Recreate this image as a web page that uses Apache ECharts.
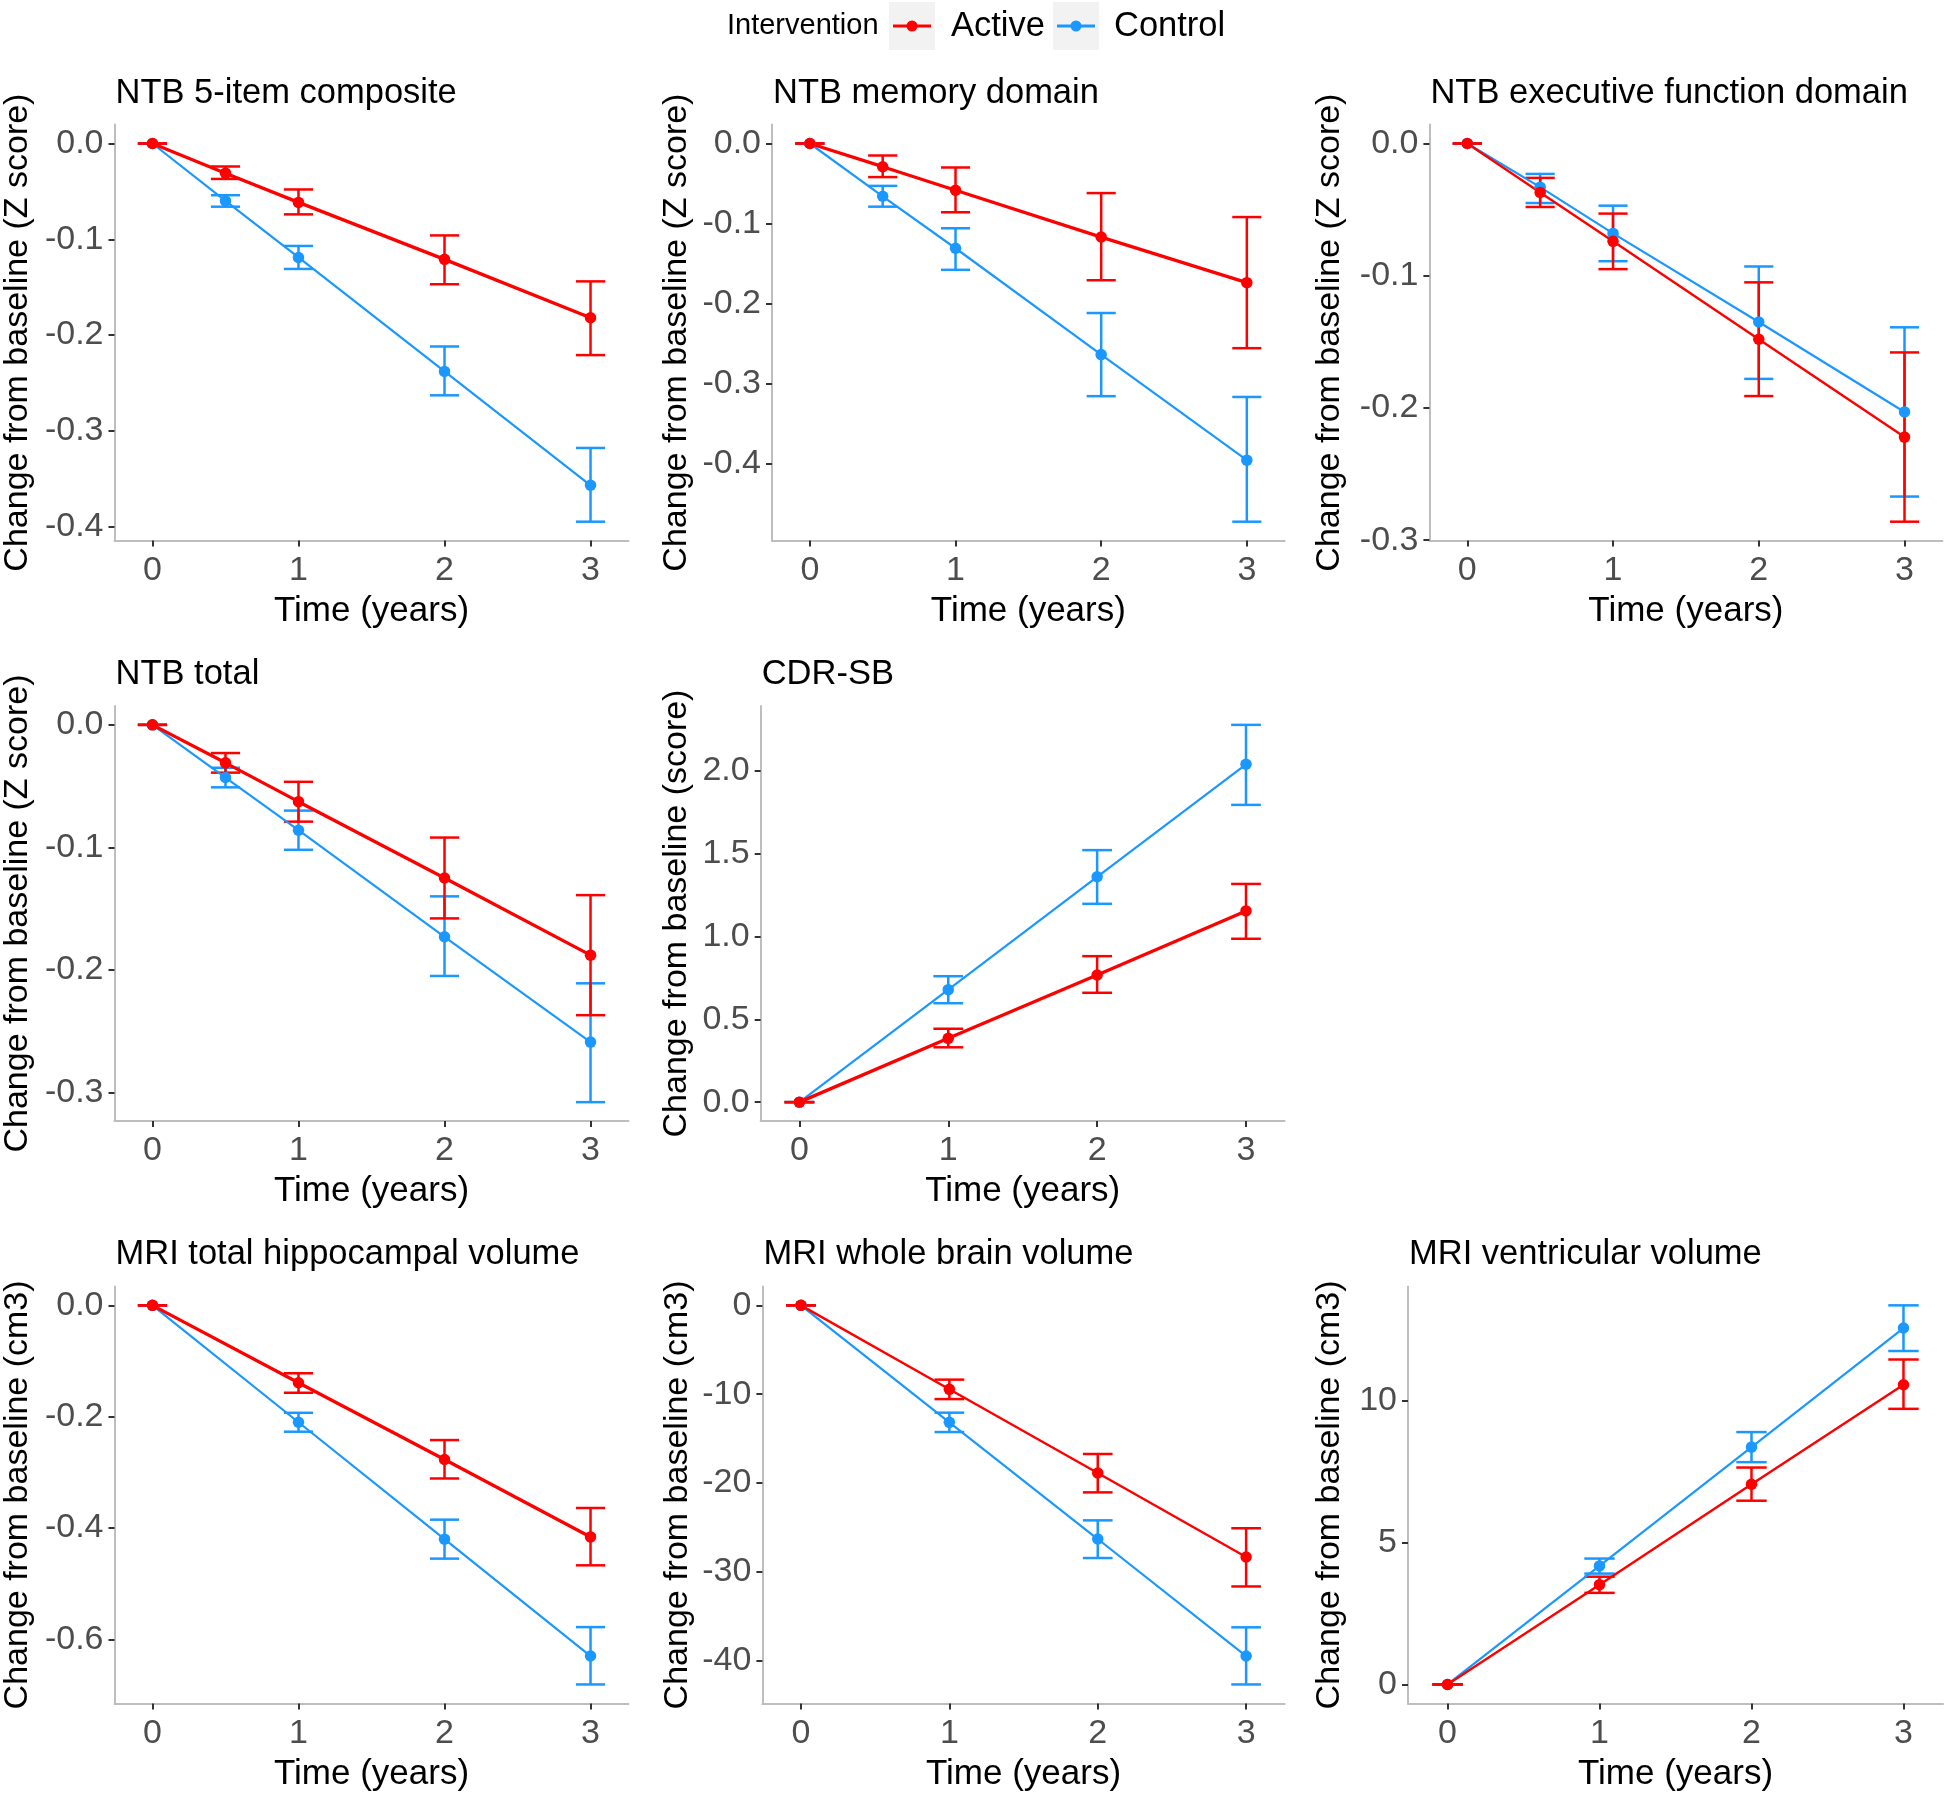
<!DOCTYPE html>
<html>
<head>
<meta charset="utf-8">
<script src="https://cdn.jsdelivr.net/npm/echarts@6/dist/echarts.min.js"></script>
<style>
  html, body { margin: 0; padding: 0; background: #fff; }
  #chart { width: 1944px; height: 1793px; }
</style>
</head>
<body>
<div id="chart"></div>
<script>
// ---- data ----
var panelTitles = ['NTB 5-item composite', 'NTB memory domain', 'NTB executive function domain',
    'NTB total', 'CDR-SB', 'MRI total hippocampal volume', 'MRI whole brain volume', 'MRI ventricular volume'];
var yNames = ['Change from baseline (Z score)', 'Change from baseline (Z score)', 'Change from baseline (Z score)',
    'Change from baseline (Z score)', 'Change from baseline (score)', 'Change from baseline (cm3)',
    'Change from baseline (cm3)', 'Change from baseline (cm3)'];

var timesNTB = [0, 0.5, 1, 2, 3];
var timesYear = [0, 1, 2, 3];
var xTicks = [0, 1, 2, 3];

// NTB 5-item composite
var ntb5Active = [0, -0.031, -0.0615, -0.121, -0.182];
var ntb5ActiveCI = [[0, 0], [-0.037, -0.024], [-0.074, -0.048], [-0.147, -0.096], [-0.221, -0.144]];
var ntb5Control = [0, -0.060, -0.119, -0.238, -0.357];
var ntb5ControlCI = [[0, 0], [-0.066, -0.054], [-0.131, -0.107], [-0.263, -0.212], [-0.395, -0.318]];

// NTB memory domain
var memActive = [0, -0.029, -0.0585, -0.117, -0.174];
var memActiveCI = [[0, 0], [-0.042, -0.015], [-0.086, -0.030], [-0.171, -0.062], [-0.256, -0.092]];
var memControl = [0, -0.066, -0.131, -0.264, -0.396];
var memControlCI = [[0, 0], [-0.079, -0.053], [-0.158, -0.106], [-0.316, -0.212], [-0.473, -0.317]];

// NTB executive function domain
var execActive = [0, -0.037, -0.074, -0.148, -0.222];
var execActiveCI = [[0, 0], [-0.048, -0.026], [-0.095, -0.053], [-0.191, -0.105], [-0.286, -0.158]];
var execControl = [0, -0.033, -0.068, -0.135, -0.203];
var execControlCI = [[0, 0], [-0.045, -0.023], [-0.089, -0.047], [-0.178, -0.093], [-0.267, -0.139]];

// NTB total
var totActive = [0, -0.031, -0.0627, -0.125, -0.188];
var totActiveCI = [[0, 0], [-0.039, -0.023], [-0.079, -0.0465], [-0.158, -0.092], [-0.237, -0.139]];
var totControl = [0, -0.043, -0.086, -0.173, -0.259];
var totControlCI = [[0, 0], [-0.051, -0.035], [-0.102, -0.070], [-0.205, -0.140], [-0.308, -0.211]];

// CDR-SB
var cdrActive = [0, 0.385, 0.767, 1.154];
var cdrActiveCI = [[0, 0], [0.331, 0.443], [0.660, 0.881], [0.986, 1.317]];
var cdrControl = [0, 0.679, 1.360, 2.039];
var cdrControlCI = [[0, 0], [0.597, 0.760], [1.197, 1.521], [1.794, 2.277]];

// MRI total hippocampal volume
var hipActive = [0, -0.139, -0.277, -0.416];
var hipActiveCI = [[0, 0], [-0.157, -0.122], [-0.311, -0.242], [-0.467, -0.364]];
var hipControl = [0, -0.210, -0.420, -0.630];
var hipControlCI = [[0, 0], [-0.227, -0.193], [-0.455, -0.385], [-0.681, -0.578]];

// MRI whole brain volume
var wbvActive = [0, -9.45, -18.87, -28.32];
var wbvActiveCI = [[0, 0], [-10.55, -8.36], [-21.05, -16.73], [-31.64, -25.09]];
var wbvControl = [0, -13.17, -26.30, -39.47];
var wbvControlCI = [[0, 0], [-14.26, -12.08], [-28.44, -24.20], [-42.67, -36.24]];

// MRI ventricular volume
var venActive = [0, 3.52, 7.06, 10.57];
var venActiveCI = [[0, 0], [3.23, 3.80], [6.48, 7.65], [9.72, 11.46]];
var venControl = [0, 4.18, 8.37, 12.57];
var venControlCI = [[0, 0], [3.91, 4.44], [7.84, 8.90], [11.76, 13.37]];

var yTicks = [
    [0, -0.1, -0.2, -0.3, -0.4],
    [0, -0.1, -0.2, -0.3, -0.4],
    [0, -0.1, -0.2, -0.3],
    [0, -0.1, -0.2, -0.3],
    [0, 0.5, 1, 1.5, 2],
    [0, -0.2, -0.4, -0.6],
    [0, -10, -20, -30, -40],
    [0, 5, 10]
];
var yDecimals = [1, 1, 1, 1, 1, 1, 0, 0];

var panelTimes = [timesNTB, timesNTB, timesNTB, timesNTB, timesYear, timesYear, timesYear, timesYear];
var activeMeans = [ntb5Active, memActive, execActive, totActive, cdrActive, hipActive, wbvActive, venActive];
var activeCIs = [ntb5ActiveCI, memActiveCI, execActiveCI, totActiveCI, cdrActiveCI, hipActiveCI, wbvActiveCI, venActiveCI];
var controlMeans = [ntb5Control, memControl, execControl, totControl, cdrControl, hipControl, wbvControl, venControl];
var controlCIs = [ntb5ControlCI, memControlCI, execControlCI, totControlCI, cdrControlCI, hipControlCI, wbvControlCI, venControlCI];

// ---- layout / style ----
var grids = [
    {left: 114.5, top: 124.6, width: 514, height: 416, gap: 80},
    {left: 772, top: 124.6, width: 512.7, height: 416, gap: 78},
    {left: 1429.4, top: 124.6, width: 513, height: 416, gap: 83},
    {left: 114.5, top: 706, width: 514, height: 415, gap: 80},
    {left: 760.7, top: 706, width: 524, height: 415, gap: 67},
    {left: 114.5, top: 1286.4, width: 514, height: 417, gap: 80},
    {left: 762.4, top: 1286.4, width: 522.3, height: 417, gap: 68},
    {left: 1408, top: 1286.4, width: 535, height: 417, gap: 61}
];
var activeWidth = [3.3, 3.3, 2.4, 3.3, 3.3, 3.3, 2.4, 2.4];

var RED = '#FF0000';
var BLUE = '#1A98FF';
var FONT = '"Liberation Sans", Arial, sans-serif';
var CAP = 0.1;   // half width of error bar caps (years)

function errRender(params, api) {
    var x = api.value(0), lo = api.value(1), hi = api.value(2);
    var pHi = api.coord([x, hi]), pLo = api.coord([x, lo]);
    var xl = api.coord([x - CAP, hi])[0], xr = api.coord([x + CAP, hi])[0];
    var st = {stroke: api.visual('color'), lineWidth: 2.5};
    return {
        type: 'group',
        children: [
            {type: 'line', shape: {x1: pHi[0], y1: pHi[1], x2: pLo[0], y2: pLo[1]}, style: st},
            {type: 'line', shape: {x1: xl, y1: pHi[1], x2: xr, y2: pHi[1]}, style: st},
            {type: 'line', shape: {x1: xl, y1: pLo[1], x2: xr, y2: pLo[1]}, style: st}
        ]
    };
}

var option = {
    animation: false,
    backgroundColor: '#fff',
    textStyle: {fontFamily: FONT},
    title: [],
    grid: [],
    xAxis: [],
    yAxis: [],
    series: [],
    graphic: []
};

panelTitles.forEach(function (t, i) {
    var g = grids[i];
    option.grid.push({left: g.left, top: g.top, width: g.width, height: g.height,
        containLabel: false, outerBoundsMode: 'none'});
    option.title.push({
        text: t, left: g.left + 1, top: g.top - 49, padding: 0,
        textStyle: {fontSize: 34.5, fontWeight: 'normal', color: '#000', fontFamily: FONT}
    });

    // y range from the data with a 5% expansion, like ggplot
    var all = [];
    activeCIs[i].concat(controlCIs[i]).forEach(function (c) { all.push(c[0], c[1]); });
    var lo = Math.min.apply(null, all.concat(activeMeans[i], controlMeans[i]));
    var hi = Math.max.apply(null, all.concat(activeMeans[i], controlMeans[i]));
    var pad = (hi - lo) * 0.05;
    var xPad = (3 + 2 * CAP) * 0.05;

    option.xAxis.push({
        type: 'value', gridIndex: i, min: -CAP - xPad, max: 3 + CAP + xPad,
        axisLine: {show: true, onZero: false, lineStyle: {color: '#BEBEBE', width: 2}},
        axisTick: {show: true, customValues: xTicks, length: 6, lineStyle: {color: '#333', width: 2}},
        axisLabel: {customValues: xTicks, fontSize: 34, color: '#4D4D4D', margin: 13, fontFamily: FONT},
        splitLine: {show: false},
        name: 'Time (years)', nameLocation: 'middle', nameGap: 53,
        nameTextStyle: {fontSize: 35, color: '#000', fontFamily: FONT}
    });
    var dec = yDecimals[i];
    option.yAxis.push({
        type: 'value', gridIndex: i, min: lo - pad, max: hi + pad,
        axisLine: {show: true, onZero: false, lineStyle: {color: '#BEBEBE', width: 2}},
        axisTick: {show: true, customValues: yTicks[i], length: 6, lineStyle: {color: '#333', width: 2}},
        axisLabel: {customValues: yTicks[i], fontSize: 34, color: '#4D4D4D', margin: 11, fontFamily: FONT,
            formatter: function (v) { return v.toFixed(dec); }},
        splitLine: {show: false},
        name: yNames[i], nameLocation: 'middle', nameRotate: 90, nameGap: g.gap,
        nameTextStyle: {fontSize: 34, color: '#000', fontFamily: FONT}
    });

    var times = panelTimes[i];
    var groups = [
        {name: 'Control', color: BLUE, means: controlMeans[i], ci: controlCIs[i], w: 2.2},
        {name: 'Active', color: RED, means: activeMeans[i], ci: activeCIs[i], w: activeWidth[i]}
    ];
    groups.forEach(function (gr) {
        option.series.push({
            name: gr.name, type: 'line', xAxisIndex: i, yAxisIndex: i,
            data: times.map(function (tm, k) { return [tm, gr.means[k]]; }),
            symbol: 'circle', symbolSize: 11.5, showSymbol: true,
            itemStyle: {color: gr.color}, lineStyle: {color: gr.color, width: gr.w}
        });
        option.series.push({
            name: gr.name, type: 'custom', xAxisIndex: i, yAxisIndex: i,
            renderItem: errRender,
            data: times.map(function (tm, k) { return [tm, gr.ci[k][0], gr.ci[k][1]]; }),
            encode: {x: 0, y: [1, 2]},
            itemStyle: {color: gr.color}
        });
    });
});

// legend (drawn like the ggplot guide with grey key boxes)
var legendKeys = [
    {label: 'Active', color: RED, box: 889, text: 951},
    {label: 'Control', color: BLUE, box: 1053, text: 1114}
];
option.graphic.push({type: 'text', left: 727, top: 11,
    style: {text: 'Intervention', fontSize: 29, fill: '#000', fontFamily: FONT}});
legendKeys.forEach(function (k) {
    option.graphic.push({type: 'rect', shape: {x: k.box, y: 2, width: 46, height: 48}, style: {fill: '#F2F2F2'}});
    option.graphic.push({type: 'line', shape: {x1: k.box + 4, y1: 26, x2: k.box + 42, y2: 26},
        style: {stroke: k.color, lineWidth: 3}});
    option.graphic.push({type: 'circle', shape: {cx: k.box + 23, cy: 26, r: 5.5}, style: {fill: k.color}});
    option.graphic.push({type: 'text', left: k.text, top: 9,
        style: {text: k.label, fontSize: 34.5, fill: '#000', fontFamily: FONT}});
});

var chart = echarts.init(document.getElementById('chart'));
chart.setOption(option);
window.addEventListener('resize', function () { chart.resize(); });
</script>
</body>
</html>
